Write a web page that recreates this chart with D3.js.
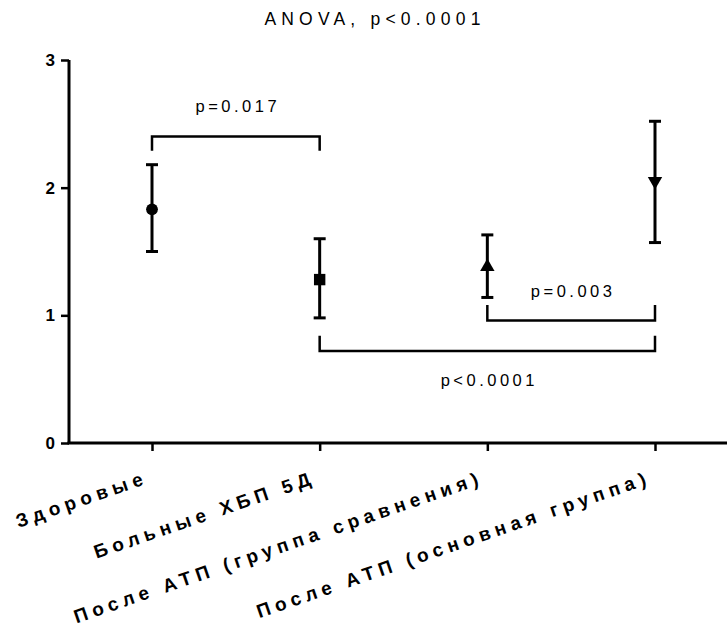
<!DOCTYPE html>
<html>
<head>
<meta charset="utf-8">
<script src="https://cdn.jsdelivr.net/npm/d3@7"></script>
<style>
  body { margin: 0; background: #fff; }
  svg { display: block; font-family: "Liberation Sans", Arial, sans-serif; }
</style>
</head>
<body>
<div id="chart"></div>
<script>
const categories = ['Здоровые', 'Больные ХБП 5Д', 'После АТП (группа сравнения)', 'После АТП (основная группа)']
const means = [1.83, 1.28, 1.38, 2.05]
const upper = [2.18, 1.60, 1.63, 2.52]
const lower = [1.50, 0.98, 1.14, 1.57]
const markers = ['circle', 'square', 'triangle', 'triangleDown']
const yTicks = [0, 1, 2, 3]

// brackets: from/to category index, bar level, leg end, label
const bracketFrom = [0, 2, 1]
const bracketTo = [1, 3, 3]
const bracketLevel = [2.40, 0.96, 0.72]
const bracketLeg = [2.29, 1.08, 0.84]
const bracketLabels = ['p=0.017', 'p=0.003', 'p<0.0001']
const bracketLabelY = [2.63, 1.18, 0.48]

const width = 727
const height = 632

const svg = d3.select('#chart')
  .append('svg')
  .attr('width', width)
  .attr('height', height)

const x = d3.scalePoint().domain(categories).range([152, 655])
const y = d3.scaleLinear().domain([0, 3]).range([443, 60])

// Title
svg.append('text')
  .attr('x', 375)
  .attr('y', 25)
  .attr('text-anchor', 'middle')
  .attr('font-size', '17.5px')
  .attr('letter-spacing', '5.2px')
  .attr('fill', '#000')
  .text('ANOVA, p<0.0001')

// Y axis
const yAxis = svg.append('g')
  .attr('transform', 'translate(69,0)')
  .call(d3.axisLeft(y).tickValues(yTicks).tickFormat(d3.format('d')).tickSize(8).tickPadding(6))
yAxis.select('.domain').attr('stroke-width', 3).attr('d', `M0,${y(3)}V${y(0)}`)
yAxis.selectAll('.tick line').attr('stroke-width', 2.5)
yAxis.selectAll('.tick text')
  .attr('font-size', '17px')
  .attr('font-weight', 'bold')
  .attr('font-family', '"Liberation Sans", Arial, sans-serif')
  .attr('fill', '#000')

// X axis
const xAxis = svg.append('g')
  .attr('transform', `translate(0,${y(0)})`)
  .call(d3.axisBottom(x).tickSize(8).tickFormat(''))
xAxis.select('.domain').attr('stroke-width', 3).attr('d', `M67.5,0H${width}`)
xAxis.selectAll('.tick line').attr('stroke-width', 2.5)

// rotated category labels
svg.append('g')
  .selectAll('text')
  .data(categories)
  .enter()
  .append('text')
  .attr('transform', (d) => `translate(${x(d) - 3},483) rotate(-19)`)
  .attr('text-anchor', 'end')
  .attr('font-size', '19px')
  .attr('font-weight', 'bold')
  .attr('letter-spacing', '5.1px')
  .attr('fill', '#000')
  .text((d) => d)

// Error bars
const bars = svg.append('g')
categories.forEach((c, i) => {
  const cx = x(c)
  bars.append('line')
    .attr('x1', cx).attr('x2', cx)
    .attr('y1', y(upper[i])).attr('y2', y(lower[i]))
    .attr('stroke', '#000').attr('stroke-width', 3)
  ;[upper[i], lower[i]].forEach((v) => {
    bars.append('line')
      .attr('x1', cx - 6).attr('x2', cx + 6)
      .attr('y1', y(v)).attr('y2', y(v))
      .attr('stroke', '#000').attr('stroke-width', 3)
  })
})

// Markers
const symbolTypes = {
  circle: d3.symbolCircle,
  square: d3.symbolSquare,
  triangle: d3.symbolTriangle,
  triangleDown: d3.symbolTriangle,
}
svg.append('g')
  .selectAll('path')
  .data(categories)
  .enter()
  .append('path')
  .attr('d', (d, i) => d3.symbol().type(symbolTypes[markers[i]]).size(markers[i] === 'circle' ? 110 : markers[i] === 'square' ? 130 : 90)())
  .attr('transform', (d, i) => `translate(${x(d)},${y(means[i])})` + (markers[i] === 'triangleDown' ? ' rotate(180)' : ''))
  .attr('fill', '#000')

// Significance brackets
const br = svg.append('g')
bracketLabels.forEach((label, i) => {
  const x1 = x(categories[bracketFrom[i]])
  const x2 = x(categories[bracketTo[i]])
  const yl = y(bracketLevel[i])
  const yg = y(bracketLeg[i])
  br.append('path')
    .attr('d', `M${x1},${yg}V${yl}H${x2}V${yg}`)
    .attr('fill', 'none')
    .attr('stroke', '#000')
    .attr('stroke-width', 2.5)
  br.append('text')
    .attr('x', (x1 + x2) / 2 + 2)
    .attr('y', y(bracketLabelY[i]))
    .attr('text-anchor', 'middle')
    .attr('dominant-baseline', 'middle')
    .attr('font-size', '16.5px')
    .attr('letter-spacing', '3.5px')
    .attr('fill', '#000')
    .text(label)
})
</script>
</body>
</html>
